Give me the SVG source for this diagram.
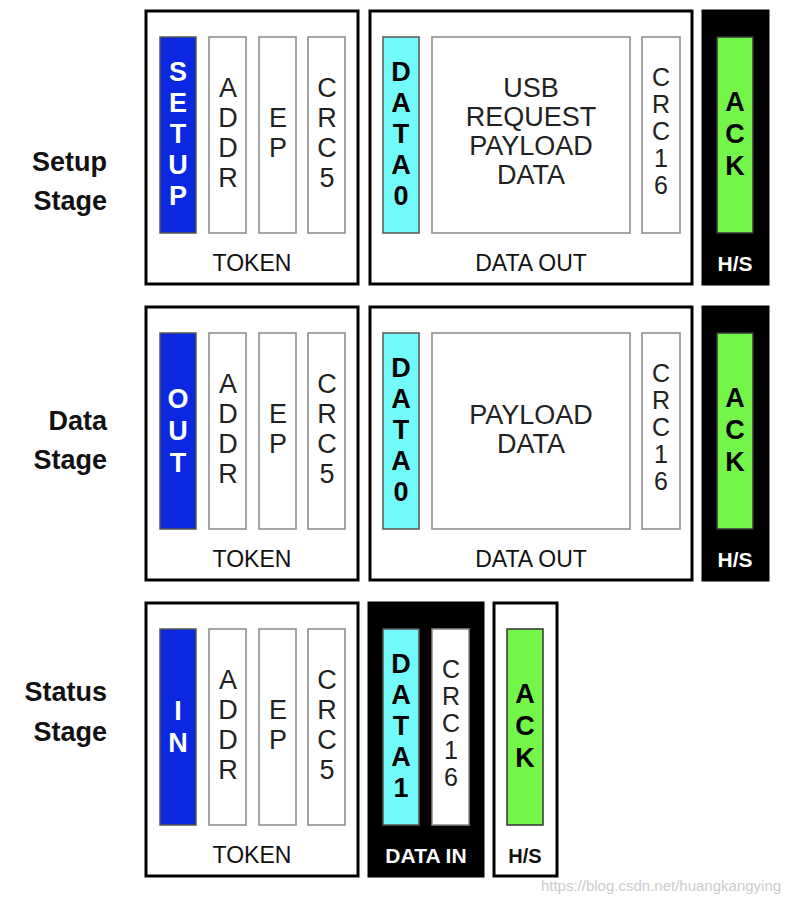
<svg xmlns="http://www.w3.org/2000/svg" width="796" height="904" viewBox="0 0 796 904">
<style>
.ob{fill:#fff;stroke:#000;stroke-width:3}
.bb{fill:#000;stroke:#000;stroke-width:3}
.f{fill:#fff;stroke:#888;stroke-width:1.5}
.bl{fill:#0a28e0;stroke:#555;stroke-width:1.5}
.cy{fill:#73fafa;stroke:#555;stroke-width:1.5}
.gr{fill:#73f54a;stroke:#333;stroke-width:1.5}
text{font-family:"Liberation Sans",Arial,sans-serif;text-anchor:middle}
.v{font-size:27px;fill:#222}
.c{font-size:25px;fill:#222}
.vb{font-size:27px;font-weight:bold;fill:#000}
.vw{font-size:27px;font-weight:bold;fill:#fff}
.lb{font-size:23px;fill:#111}
.lw{font-size:21px;fill:#fff;font-weight:bold}
.st{font-size:27px;font-weight:bold;fill:#111;text-anchor:end}
.h{font-size:27px;fill:#222}
</style>
<g id="labels">
<text class="st" x="107" y="171">Setup</text><text class="st" x="107" y="210">Stage</text>
<text class="st" x="107" y="430">Data</text><text class="st" x="107" y="469">Stage</text>
<text class="st" x="107" y="701">Status</text><text class="st" x="107" y="741">Stage</text>
</g>
<g id="row1">
<rect class="ob" x="146" y="11" width="212" height="273"/>
<rect class="bl" x="160" y="37" width="36" height="196"/>
<rect class="f" x="209" y="37" width="37" height="196"/>
<rect class="f" x="259" y="37" width="37" height="196"/>
<rect class="f" x="308" y="37" width="37" height="196"/>
<text class="vw"><tspan x="178" y="81">S</tspan><tspan x="178" y="112">E</tspan><tspan x="178" y="143">T</tspan><tspan x="178" y="174">U</tspan><tspan x="178" y="205">P</tspan></text>
<text class="v"><tspan x="228" y="97">A</tspan><tspan x="228" y="127">D</tspan><tspan x="228" y="157">D</tspan><tspan x="228" y="187">R</tspan></text>
<text class="v"><tspan x="278" y="127">E</tspan><tspan x="278" y="157">P</tspan></text>
<text class="v"><tspan x="327" y="97">C</tspan><tspan x="327" y="127">R</tspan><tspan x="327" y="157">C</tspan><tspan x="327" y="187">5</tspan></text>
<text class="lb" x="252" y="271">TOKEN</text>
<rect class="ob" x="370" y="11" width="322" height="273"/>
<rect class="cy" x="383" y="37" width="36" height="196"/>
<rect class="f" x="432" y="37" width="198" height="196"/>
<rect class="f" x="642" y="37" width="38" height="196"/>
<text class="vb"><tspan x="401" y="81">D</tspan><tspan x="401" y="112">A</tspan><tspan x="401" y="143">T</tspan><tspan x="401" y="174">A</tspan><tspan x="401" y="205">0</tspan></text>
<text class="h"><tspan x="531" y="97">USB</tspan><tspan x="531" y="126">REQUEST</tspan><tspan x="531" y="155">PAYLOAD</tspan><tspan x="531" y="184">DATA</tspan></text>
<text class="c"><tspan x="661" y="86">C</tspan><tspan x="661" y="113">R</tspan><tspan x="661" y="140">C</tspan><tspan x="661" y="167">1</tspan><tspan x="661" y="194">6</tspan></text>
<text class="lb" x="531" y="271">DATA OUT</text>
<rect class="bb" x="703" y="11" width="65" height="273"/>
<rect class="gr" x="717" y="37" width="36" height="196"/>
<text class="vb"><tspan x="735" y="111">A</tspan><tspan x="735" y="143">C</tspan><tspan x="735" y="175">K</tspan></text>
<text class="lw" x="735" y="271">H/S</text>
</g>
<g id="row2">
<rect class="ob" x="146" y="307" width="212" height="273"/>
<rect class="bl" x="160" y="333" width="36" height="196"/>
<rect class="f" x="209" y="333" width="37" height="196"/>
<rect class="f" x="259" y="333" width="37" height="196"/>
<rect class="f" x="308" y="333" width="37" height="196"/>
<text class="vw"><tspan x="178" y="408">O</tspan><tspan x="178" y="440">U</tspan><tspan x="178" y="472">T</tspan></text>
<text class="v"><tspan x="228" y="393">A</tspan><tspan x="228" y="423">D</tspan><tspan x="228" y="453">D</tspan><tspan x="228" y="483">R</tspan></text>
<text class="v"><tspan x="278" y="423">E</tspan><tspan x="278" y="453">P</tspan></text>
<text class="v"><tspan x="327" y="393">C</tspan><tspan x="327" y="423">R</tspan><tspan x="327" y="453">C</tspan><tspan x="327" y="483">5</tspan></text>
<text class="lb" x="252" y="567">TOKEN</text>
<rect class="ob" x="370" y="307" width="322" height="273"/>
<rect class="cy" x="383" y="333" width="36" height="196"/>
<rect class="f" x="432" y="333" width="198" height="196"/>
<rect class="f" x="642" y="333" width="38" height="196"/>
<text class="vb"><tspan x="401" y="377">D</tspan><tspan x="401" y="408">A</tspan><tspan x="401" y="439">T</tspan><tspan x="401" y="470">A</tspan><tspan x="401" y="501">0</tspan></text>
<text class="h"><tspan x="531" y="424">PAYLOAD</tspan><tspan x="531" y="453">DATA</tspan></text>
<text class="c"><tspan x="661" y="382">C</tspan><tspan x="661" y="409">R</tspan><tspan x="661" y="436">C</tspan><tspan x="661" y="463">1</tspan><tspan x="661" y="490">6</tspan></text>
<text class="lb" x="531" y="567">DATA OUT</text>
<rect class="bb" x="703" y="307" width="65" height="273"/>
<rect class="gr" x="717" y="333" width="36" height="196"/>
<text class="vb"><tspan x="735" y="407">A</tspan><tspan x="735" y="439">C</tspan><tspan x="735" y="471">K</tspan></text>
<text class="lw" x="735" y="567">H/S</text>
</g>
<g id="row3">
<rect class="ob" x="146" y="603" width="212" height="273"/>
<rect class="bl" x="160" y="629" width="36" height="196"/>
<rect class="f" x="209" y="629" width="37" height="196"/>
<rect class="f" x="259" y="629" width="37" height="196"/>
<rect class="f" x="308" y="629" width="37" height="196"/>
<text class="vw"><tspan x="178" y="720">I</tspan><tspan x="178" y="752">N</tspan></text>
<text class="v"><tspan x="228" y="689">A</tspan><tspan x="228" y="719">D</tspan><tspan x="228" y="749">D</tspan><tspan x="228" y="779">R</tspan></text>
<text class="v"><tspan x="278" y="719">E</tspan><tspan x="278" y="749">P</tspan></text>
<text class="v"><tspan x="327" y="689">C</tspan><tspan x="327" y="719">R</tspan><tspan x="327" y="749">C</tspan><tspan x="327" y="779">5</tspan></text>
<text class="lb" x="252" y="863">TOKEN</text>
<rect class="bb" x="369" y="603" width="114" height="273"/>
<rect class="cy" x="383" y="629" width="36" height="196"/>
<rect class="f" x="432" y="629" width="37" height="196"/>
<text class="vb"><tspan x="401" y="673">D</tspan><tspan x="401" y="704">A</tspan><tspan x="401" y="735">T</tspan><tspan x="401" y="766">A</tspan><tspan x="401" y="797">1</tspan></text>
<text class="c"><tspan x="451" y="678">C</tspan><tspan x="451" y="705">R</tspan><tspan x="451" y="732">C</tspan><tspan x="451" y="759">1</tspan><tspan x="451" y="786">6</tspan></text>
<text class="lw" x="426" y="863">DATA IN</text>
<rect class="ob" x="494" y="603" width="63" height="273"/>
<rect class="gr" x="507" y="629" width="36" height="196"/>
<text class="vb"><tspan x="525" y="703">A</tspan><tspan x="525" y="735">C</tspan><tspan x="525" y="767">K</tspan></text>
<text class="lb" x="525" y="863" style="font-weight:bold;font-size:20px">H/S</text>
</g>
<text x="661" y="891" style="font-size:15px;fill:#ccc">https://blog.csdn.net/huangkangying</text>
</svg>
